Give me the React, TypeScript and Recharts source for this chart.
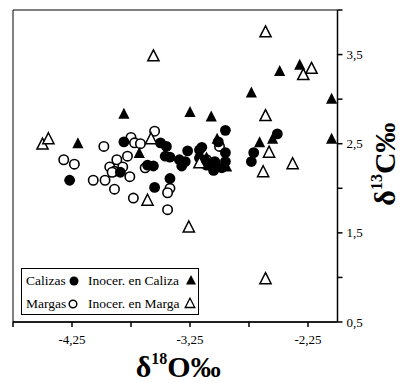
import { ScatterChart, Scatter, XAxis, YAxis, ReferenceArea, Legend } from 'recharts';

// δ18O (x), δ13C (y) pairs
const calizas: [number, number][] = [
  [-4.27, 2.09], [-3.81, 2.52], [-3.84, 2.18], [-3.61, 2.26], [-3.56, 2.25],
  [-3.42, 2.11], [-3.55, 2.01], [-3.5, 2.51], [-3.45, 2.47], [-3.46, 2.36],
  [-3.42, 2.35], [-3.34, 2.32], [-3.27, 2.42], [-3.32, 2.25], [-3.29, 2.3],
  [-3.17, 2.43], [-3.17, 2.34], [-3.15, 2.46], [-3.11, 2.26], [-3.05, 2.2],
  [-3.04, 2.3], [-2.98, 2.23], [-2.95, 2.4], [-2.95, 2.3], [-2.95, 2.65],
  [-3.01, 2.52], [-2.71, 2.4], [-2.73, 2.3], [-2.51, 2.61],
];

const margas: [number, number][] = [
  [-3.98, 2.47], [-4.32, 2.32], [-4.23, 2.27], [-4.07, 2.09], [-3.97, 2.09],
  [-3.89, 1.99], [-3.73, 1.89], [-3.78, 2.36], [-3.87, 2.32], [-3.93, 2.24],
  [-3.89, 2.19], [-3.82, 2.24], [-3.76, 2.13], [-3.75, 2.57], [-3.72, 2.51],
  [-3.91, 2.18], [-3.55, 2.64], [-3.67, 2.5], [-3.63, 2.23], [-3.44, 1.76],
  [-3.42, 2.0], [-3.44, 1.95], [-3.11, 2.32], [-3.0, 2.47],
];

const inocerCaliza: [number, number][] = [
  [-4.2, 2.5], [-3.81, 2.83], [-3.25, 2.85], [-3.68, 2.39], [-3.07, 2.8],
  [-2.73, 3.07], [-2.49, 3.31], [-2.32, 3.38], [-2.05, 3.0], [-2.05, 2.55],
  [-2.66, 2.51], [-2.55, 2.55], [-3.02, 2.55], [-3.11, 2.34], [-2.94, 2.24],
];

const inocerMarga: [number, number][] = [
  [-4.5, 2.49], [-4.45, 2.55], [-3.56, 3.48], [-2.61, 3.75], [-2.29, 3.27],
  [-2.22, 3.34], [-2.61, 2.81], [-2.58, 2.4], [-2.63, 2.18], [-2.38, 2.27],
  [-2.61, 0.98], [-3.26, 1.56], [-3.61, 1.86], [-3.58, 2.55], [-3.17, 2.28],
];

const xTicks = [-4.75, -4.25, -3.75, -3.25, -2.75, -2.25];
const xLabels = [-4.25, -3.25, -2.25];
const yTicks = [0.5, 1, 1.5, 2, 2.5, 3, 3.5, 4];
const yLabels = [0.5, 1.5, 2.5, 3.5];

const toPoints = (arr: [number, number][]) => arr.map(([x, y]) => ({ x, y }));

const serif = "'Liberation Serif', 'Times New Roman', Times, serif";

const FilledDot = (p: any) => <circle cx={p.cx} cy={p.cy} r={5.4} fill="#000" />;
const OpenDot = (p: any) => (
  <circle cx={p.cx} cy={p.cy} r={4.7} fill="#fff" stroke="#000" strokeWidth={1.6} />
);
const triPath = (cx: number, cy: number) =>
  `M${cx},${cy - 6.5}L${cx + 5.6},${cy + 4.5}L${cx - 5.6},${cy + 4.5}Z`;
const FilledTri = (p: any) => <path d={triPath(p.cx, p.cy)} fill="#000" />;
const OpenTri = (p: any) => (
  <path d={triPath(p.cx, p.cy)} fill="#fff" stroke="#000" strokeWidth={1.5} />
);

const XTitle = (props: any) => {
  const vb = props.viewBox;
  return (
    <text
      x={vb.x + vb.width / 2 + 3}
      y={377}
      textAnchor="middle"
      fontFamily={serif}
      fontWeight="bold"
      fontSize={30}
      fill="#000"
    >
      δ<tspan fontSize={16} dy={-13}>18</tspan>
      <tspan dy={13}>O‰</tspan>
    </text>
  );
};

const YTitle = (props: any) => {
  const vb = props.viewBox;
  const cx = 395;
  const cy = vb.y + vb.height / 2 - 2;
  return (
    <text
      x={cx}
      y={cy}
      transform={`rotate(-90, ${cx}, ${cy})`}
      textAnchor="middle"
      fontFamily={serif}
      fontWeight="bold"
      fontSize={30}
      fill="#000"
    >
      δ<tspan fontSize={16} dy={-13}>13</tspan>
      <tspan dy={13}>C‰</tspan>
    </text>
  );
};

const LegendBox = () => {
  const row: React.CSSProperties = { position: 'absolute', whiteSpace: 'nowrap' };
  return (
    <div
      style={{
        position: 'relative',
        width: 178,
        height: 47,
        boxSizing: 'border-box',
        border: '1.5px solid #000',
        background: '#fff',
        fontFamily: serif,
        fontSize: 13.5,
        lineHeight: '16px',
        color: '#000',
      }}
    >
      <span style={{ ...row, left: 4, top: 4 }}>Calizas</span>
      <svg style={{ position: 'absolute', left: 46, top: 6 }} width={12} height={12}>
        <circle cx={6} cy={6} r={4.5} fill="#000" />
      </svg>
      <span style={{ ...row, left: 66, top: 4 }}>Inocer. en Caliza</span>
      <svg style={{ position: 'absolute', left: 163, top: 5 }} width={12} height={12}>
        <path d="M6,1L11,10.5L1,10.5Z" fill="#000" />
      </svg>
      <span style={{ ...row, left: 4, top: 27 }}>Margas</span>
      <svg style={{ position: 'absolute', left: 45, top: 29 }} width={12} height={12}>
        <circle cx={6} cy={6} r={3.8} fill="#fff" stroke="#000" strokeWidth={1.5} />
      </svg>
      <span style={{ ...row, left: 66, top: 27 }}>Inocer. en Marga</span>
      <svg style={{ position: 'absolute', left: 162, top: 28 }} width={12} height={12}>
        <path d="M6,1.2L10.8,10.5L1.2,10.5Z" fill="#fff" stroke="#000" strokeWidth={1.3} />
      </svg>
    </div>
  );
};

const fmt = (labels: number[], digits: number) => (v: number) =>
  labels.some((l) => Math.abs(l - v) < 1e-6) ? v.toFixed(digits).replace('.', ',') : '';

export default function App() {
  return (
    <div
      style={{
        position: 'absolute',
        left: 0,
        top: 0,
        width: 401,
        height: 382,
        background: '#fff',
        fontFamily: serif,
      }}
    >
      <ScatterChart width={401} height={382} margin={{ top: 10, right: 23.5, bottom: 30, left: 13 }}>
        <XAxis
          type="number"
          dataKey="x"
          domain={[-4.75, -2]}
          ticks={xTicks}
          interval={0}
          tickFormatter={fmt(xLabels, 2)}
          tickSize={5}
          tickMargin={8}
          height={30}
          axisLine={{ stroke: '#000', strokeWidth: 1.5 }}
          tickLine={{ stroke: '#000', strokeWidth: 1.5 }}
          tick={{ fill: '#000', fontSize: 13, fontFamily: serif }}
          label={XTitle}
        />
        <YAxis
          type="number"
          dataKey="y"
          orientation="right"
          domain={[0.5, 4]}
          ticks={yTicks}
          interval={0}
          tickFormatter={fmt(yLabels, 1)}
          tickSize={5}
          tickMargin={4}
          width={40}
          axisLine={{ stroke: '#000', strokeWidth: 1.5 }}
          tickLine={{ stroke: '#000', strokeWidth: 1.5 }}
          tick={{ fill: '#000', fontSize: 13, fontFamily: serif, textAnchor: 'start' }}
          label={YTitle}
        />
        <ReferenceArea x1={-4.75} x2={-2} y1={0.5} y2={4} fill="none" stroke="#000" strokeWidth={1} ifOverflow="visible" />
        <Scatter name="Margas" data={toPoints(margas)} shape={OpenDot} isAnimationActive={false} />
        <Scatter name="Calizas" data={toPoints(calizas)} shape={FilledDot} isAnimationActive={false} />
        <Scatter name="Inocer. en Marga" data={toPoints(inocerMarga)} shape={OpenTri} isAnimationActive={false} />
        <Scatter name="Inocer. en Caliza" data={toPoints(inocerCaliza)} shape={FilledTri} isAnimationActive={false} />
        <Legend
          layout="horizontal"
          verticalAlign="middle"
          align="center"
          content={LegendBox}
          wrapperStyle={{ left: 21, top: 268, width: 178 }}
        />
      </ScatterChart>
    </div>
  );
}
